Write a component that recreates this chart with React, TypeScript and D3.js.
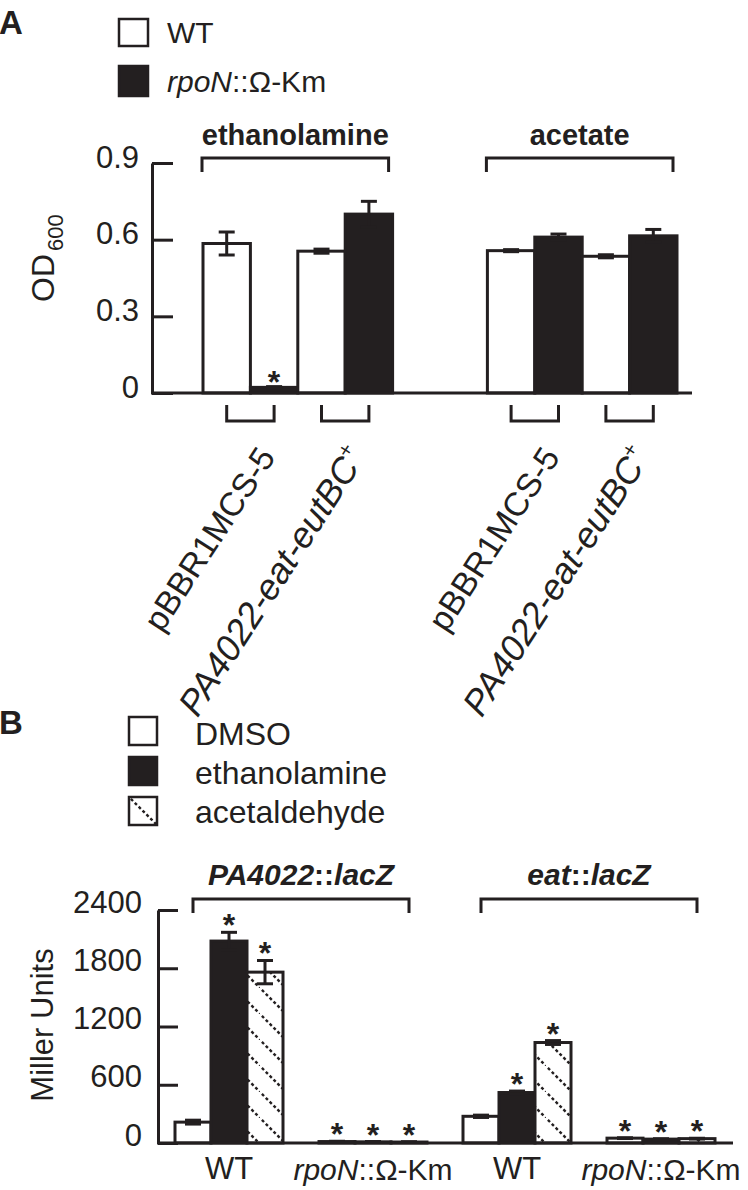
import React, { useEffect, useRef } from 'react';
import * as d3 from 'd3';

const FONT = '"Liberation Sans", Arial, Helvetica, sans-serif';

// Panel A: growth on ethanolamine / acetate (OD600)
const substratesA = ['ethanolamine', 'acetate'];
const plasmidsA = ['pBBR1MCS-5', 'PA4022-eat-eutBC'];
const strainsA = ['WT', 'rpoN'];
// order: substrate > plasmid > strain (WT, rpoN)
const odMean = [0.585, 0.022, 0.555, 0.7, 0.557, 0.61, 0.535, 0.615];
const odErr = [0.045, 0.003, 0.008, 0.05, 0.004, 0.012, 0.006, 0.025];
const odStar = [false, true, false, false, false, false, false, false];
const odTicks = [0, 0.3, 0.6, 0.9];

// Panel B: lacZ reporter activity (Miller units)
const reportersB = ['PA4022', 'eat'];
const strainsB = ['WT', 'rpoN'];
const treatmentsB = ['DMSO', 'ethanolamine', 'acetaldehyde'];
// order: reporter > strain > treatment
const millerMean = [215, 2080, 1760, 15, 12, 10, 275, 520, 1035, 50, 40, 45];
const millerErr = [20, 90, 120, 3, 3, 3, 12, 15, 20, 4, 4, 4];
const millerStar = [false, true, true, true, true, true, false, true, true, true, true, true];
const millerTicks = [0, 600, 1200, 1800, 2400];

const INK = '#231f20';
const fillFor = (k: number) => (k === 0 ? '#fff' : k === 1 ? INK : 'url(#hatch)');

// scales
const xA = d3.scaleBand<number>().domain(d3.range(10)).range([203, 677]).padding(0);
const yA = d3.scaleLinear().domain([0, 0.9]).range([393, 163]);
const xB = d3.scaleBand<number>().domain(d3.range(15)).range([175, 715]).padding(0);
const yB = d3.scaleLinear().domain([0, 2400]).range([1143, 910]);

const slotA = (i: number) => Math.floor(i / 4) * 6 + (i % 4);
const slotB = (i: number) => Math.floor(i / 6) * 8 + Math.floor((i % 6) / 3) * 4 + (i % 3);

const ErrorBar = ({ cx, y1, y2, w }: { cx: number; y1: number; y2: number; w: number }) => (
  <g stroke={INK} strokeWidth={3}>
    <line x1={cx} x2={cx} y1={y1} y2={y2} />
    <line x1={cx - w / 2} x2={cx + w / 2} y1={y1} y2={y1} />
    <line x1={cx - w / 2} x2={cx + w / 2} y1={y2} y2={y2} />
  </g>
);

// y is the visual centre of the asterisk
const Star = ({ x, y }: { x: number; y: number }) => (
  <text x={x} y={y + 18} textAnchor="middle" fontSize={32} fontWeight="bold" fill={INK}>*</text>
);

const Bracket = ({ x1, x2, y, leg }: { x1: number; x2: number; y: number; leg: number }) => (
  <path d={`M${x1},${y + leg}V${y}H${x2}V${y + leg}`} fill="none" stroke={INK} strokeWidth={3} />
);

const RpoN = ({ x, y, size, anchor }: { x: number; y: number; size: number; anchor: string }) => (
  <text x={x} y={y} fontSize={size} textAnchor={anchor} fill={INK}>
    <tspan fontStyle="italic">rpoN</tspan>::Ω-Km
  </text>
);

export default function App() {
  const axisARef = useRef<SVGGElement>(null);
  const axisBRef = useRef<SVGGElement>(null);

  useEffect(() => {
    const styleAxis = (g: any, dy: number, size: number) => {
      g.select('.domain').attr('stroke', INK).attr('stroke-width', 3);
      g.selectAll('.tick line').attr('stroke', INK).attr('stroke-width', 3);
      g.selectAll('.tick text')
        .attr('dy', dy)
        .attr('fill', INK)
        .style('font-size', size + 'px')
        .style('font-family', FONT);
    };
    const gA = d3.select(axisARef.current);
    gA.call(
      d3.axisLeft(yA)
        .tickValues(odTicks)
        .tickSizeInner(-21)
        .tickSizeOuter(0)
        .tickPadding(13)
        .tickFormat((d: any) => (d === 0 ? '0' : d3.format('.1f')(d)))
    );
    styleAxis(gA, 4, 31);

    const gB = d3.select(axisBRef.current);
    gB.call(
      d3.axisLeft(yB)
        .tickValues(millerTicks)
        .tickSizeInner(-20)
        .tickSizeOuter(0)
        .tickPadding(16)
        .tickFormat(d3.format('d'))
    );
    styleAxis(gB, 2, 31);
  }, []);

  const bwA = xA.bandwidth();
  const bwB = xB.bandwidth();

  return (
    <svg
      width={748}
      height={1190}
      style={{ position: 'absolute', left: 0, top: 0, background: '#fff' }}
      fontFamily={FONT}
    >
      <defs>
        <pattern id="hatch" patternUnits="userSpaceOnUse" width={26} height={26}>
          <rect width={26} height={26} fill="#fff" />
          <line x1={-2} y1={-2} x2={28} y2={28} stroke={INK} strokeWidth={2.4} strokeDasharray="3 2.5" />
        </pattern>
        <pattern id="hatchLeg" patternUnits="userSpaceOnUse" x={129} y={797} width={28} height={28}>
          <rect width={28} height={28} fill="#fff" />
          <line x1={-2} y1={-2} x2={30} y2={30} stroke={INK} strokeWidth={2.4} strokeDasharray="3 2.5" />
        </pattern>
      </defs>

      {/* ---------------- Panel A ---------------- */}
      <text x={-1} y={34} fontSize={33} fontWeight="bold" fill={INK}>A</text>

      {strainsA.map((s, k) => (
        <g key={s}>
          <rect
            x={119}
            y={k === 0 ? 19 : 66}
            width={29}
            height={k === 0 ? 27 : 30}
            fill={fillFor(k)}
            stroke={INK}
            strokeWidth={2.5}
          />
          {k === 0 ? (
            <text x={167} y={43} fontSize={30} fill={INK}>WT</text>
          ) : (
            <RpoN x={167} y={92} size={30} anchor="start" />
          )}
        </g>
      ))}

      {/* substrate brackets */}
      {substratesA.map((s, k) => {
        const x1 = xA(k * 6)! - 1;
        const x2 = xA(k * 6 + 3)! + bwA - 4;
        return (
          <g key={s}>
            <Bracket x1={x1} x2={x2} y={158} leg={14} />
            <text x={(x1 + x2) / 2} y={145} textAnchor="middle" fontSize={29} fontWeight="bold" fill={INK}>
              {s}
            </text>
          </g>
        );
      })}

      {/* bars */}
      {odMean.map((m, i) => {
        const x = xA(slotA(i))!;
        const strain = i % 2;
        return (
          <g key={i}>
            <rect
              x={x}
              y={yA(m)}
              width={bwA}
              height={yA(0) - yA(m)}
              fill={fillFor(strain)}
              stroke={INK}
              strokeWidth={3}
            />
            <ErrorBar cx={x + bwA / 2} y1={yA(m + odErr[i])} y2={yA(m - odErr[i])} w={16} />
            {odStar[i] && <Star x={x + bwA / 2} y={yA(m + odErr[i]) - 12} />}
          </g>
        );
      })}

      <g ref={axisARef} transform="translate(152,0)" />
      <line x1={151} x2={692} y1={yA(0)} y2={yA(0)} stroke={INK} strokeWidth={3} />

      {/* plasmid brackets and rotated labels */}
      {substratesA.map((s, k) =>
        plasmidsA.map((p, j) => {
          const slot = k * 6 + j * 2;
          const x1 = xA(slot)! + bwA / 2;
          const x2 = xA(slot + 1)! + bwA / 2;
          const cx = (x1 + x2) / 2;
          return (
            <g key={s + p}>
              <Bracket x1={x1} x2={x2} y={421} leg={-16} />
              <text
                transform={`translate(${cx + (j === 0 ? 26 : 22)},457) rotate(-57)`}
                textAnchor="end"
                fontSize={j === 0 ? 33.5 : 36}
                fill={INK}
              >
                {j === 0 ? (
                  p
                ) : (
                  <>
                    <tspan fontStyle="italic">{p}</tspan>
                    <tspan fontSize={21} dy={-15}>+</tspan>
                  </>
                )}
              </text>
            </g>
          );
        })
      )}

      <text transform="translate(54,302) rotate(-90)" fontSize={32} fill={INK}>
        OD<tspan fontSize={22} dx={3} dy={9}>600</tspan>
      </text>

      {/* ---------------- Panel B ---------------- */}
      <text x={-1} y={734} fontSize={33} fontWeight="bold" fill={INK}>B</text>

      {treatmentsB.map((t, k) => (
        <g key={t}>
          <rect
            x={129}
            y={717 + k * 40}
            width={28}
            height={28}
            fill={k === 2 ? 'url(#hatchLeg)' : fillFor(k)}
            stroke={INK}
            strokeWidth={2.5}
          />
          <text x={195} y={745 + k * 39} fontSize={32} fill={INK}>{t}</text>
        </g>
      ))}

      {/* reporter brackets */}
      {reportersB.map((r, k) => {
        const x1 = xB(k * 8)! + bwB / 2;
        const x2 = xB(k * 8 + 6)! + bwB / 2;
        return (
          <g key={r}>
            <Bracket x1={x1} x2={x2} y={899} leg={14} />
            <text x={(x1 + x2) / 2} y={885} textAnchor="middle" fontSize={30} fontWeight="bold" fill={INK}>
              <tspan fontStyle="italic">{r}</tspan>::<tspan fontStyle="italic">lacZ</tspan>
            </text>
          </g>
        );
      })}

      {millerMean.map((m, i) => {
        const x = xB(slotB(i))!;
        const treat = i % 3;
        return (
          <g key={i}>
            <rect
              x={x}
              y={yB(m)}
              width={bwB}
              height={yB(0) - yB(m)}
              fill={fillFor(treat)}
              stroke={INK}
              strokeWidth={3}
            />
            <ErrorBar cx={x + bwB / 2} y1={yB(m + millerErr[i])} y2={yB(m - millerErr[i])} w={16} />
            {millerStar[i] && <Star x={x + bwB / 2} y={yB(m + millerErr[i]) - 14} />}
          </g>
        );
      })}

      <g ref={axisBRef} transform="translate(158,0)" />
      <line x1={157} x2={733} y1={yB(0)} y2={yB(0)} stroke={INK} strokeWidth={3} />

      {reportersB.map((r, k) =>
        strainsB.map((s, j) => {
          const cx = xB(k * 8 + j * 4 + 1)! + bwB / 2;
          return j === 0 ? (
            <text key={r + s} x={cx} y={1179} textAnchor="middle" fontSize={31} fill={INK}>WT</text>
          ) : (
            <RpoN key={r + s} x={cx} y={1180} size={30} anchor="middle" />
          );
        })
      )}

      <text transform="translate(53,1025) rotate(-90)" textAnchor="middle" fontSize={31} fill={INK}>
        Miller Units
      </text>
    </svg>
  );
}
